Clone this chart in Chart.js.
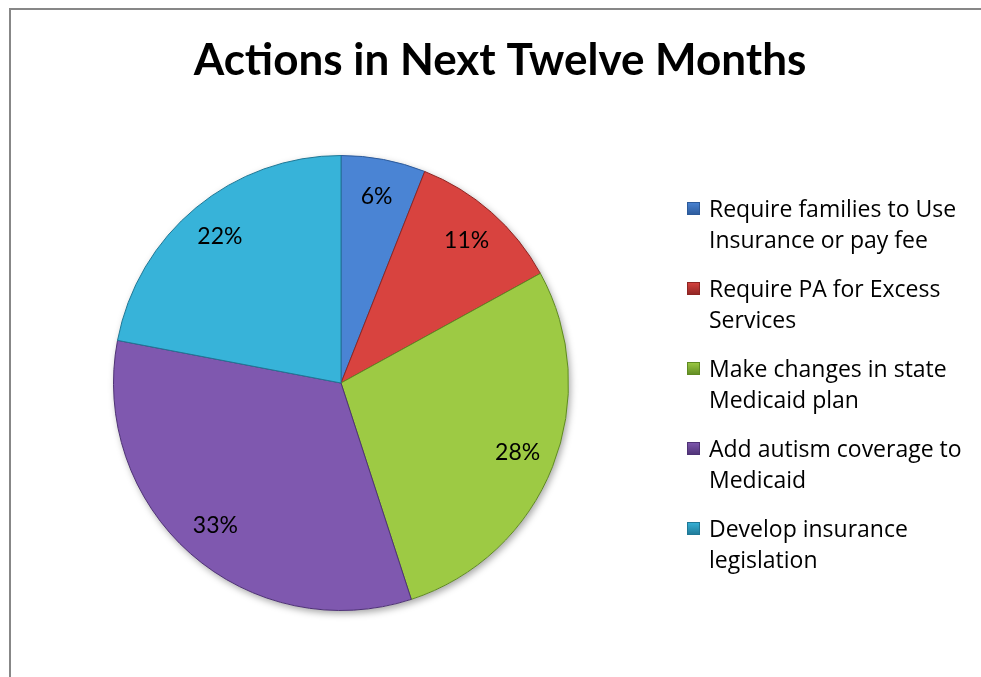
<!DOCTYPE html>
<html>
<head>
<meta charset="utf-8">
<script src="https://cdn.jsdelivr.net/npm/chart.js@4.4.1/dist/chart.umd.min.js"></script>
<style>
  html, body { margin: 0; padding: 0; background: #ffffff; overflow: hidden; }
  #wrap { position: absolute; left: 0; top: 0; width: 981px; height: 677px; }
</style>
</head>
<body>
<div id="wrap"><canvas id="c" width="981" height="677"></canvas></div>
<script>
// ---- data ----
const chartTitle = "Actions in Next Twelve Months";
const categories = [
  ["Require families to Use", "Insurance or pay fee"],
  ["Require PA for Excess", "Services"],
  ["Make changes in state", "Medicaid plan"],
  ["Add autism coverage to", "Medicaid"],
  ["Develop insurance", "legislation"]
];
const percentValues = [6, 11, 28, 33, 22];
const sliceColors = ["#4a84d4", "#d8433f", "#9dca44", "#7f58af", "#37b3d9"];
const sliceEdges = ["#2c5a9a", "#8e2523", "#5f8a22", "#4e3275", "#1f7896"];

const FONT = "Lato, 'Open Sans', sans-serif";
const LEGEND_FONT = "'Open Sans', Lato, sans-serif";

const framePlugin = {
  id: 'frame',
  beforeDraw(chart) {
    const ctx = chart.ctx;
    ctx.save();
    ctx.fillStyle = '#ffffff';
    ctx.fillRect(0, 0, chart.width, chart.height);
    ctx.strokeStyle = '#878787';
    ctx.lineWidth = 2;
    ctx.beginPath();
    ctx.moveTo(10, chart.height + 5);
    ctx.lineTo(10, 9);
    ctx.lineTo(chart.width + 5, 9);
    ctx.stroke();
    // title
    ctx.fillStyle = '#000000';
    ctx.font = "bold 44px " + FONT;
    ctx.textAlign = 'center';
    ctx.textBaseline = 'alphabetic';
    ctx.fillText(chartTitle, 500, 75);
    ctx.restore();
  },
  beforeDatasetsDraw(chart) {
    const arc = chart.getDatasetMeta(0).data[0];
    if (!arc) return;
    const ctx = chart.ctx;
    ctx.save();
    ctx.shadowColor = 'rgba(0,0,0,0.35)';
    ctx.shadowBlur = 7;
    ctx.shadowOffsetX = 2;
    ctx.shadowOffsetY = 3;
    ctx.fillStyle = '#ffffff';
    ctx.beginPath();
    ctx.arc(arc.x, arc.y, arc.outerRadius, 0, Math.PI * 2);
    ctx.fill();
    ctx.restore();
  },
  afterDatasetsDraw(chart) {
    const ctx = chart.ctx;
    const meta = chart.getDatasetMeta(0);
    ctx.save();
    ctx.fillStyle = '#000000';
    ctx.font = "23px " + FONT;
    ctx.textAlign = 'center';
    ctx.textBaseline = 'middle';
    meta.data.forEach((a, i) => {
      const mid = (a.startAngle + a.endAngle) / 2;
      const r = a.outerRadius * 0.835;
      ctx.fillText(chart.data.datasets[0].data[i] + '%', a.x + Math.cos(mid) * r, a.y + Math.sin(mid) * r);
    });
    // legend
    ctx.font = "23px " + LEGEND_FONT;
    ctx.textAlign = 'left';
    ctx.textBaseline = 'alphabetic';
    chart.data.labels.forEach((lines, i) => {
      const base = 217 + 80 * i;
      const grad = ctx.createLinearGradient(0, base - 15, 0, base - 2);
      grad.addColorStop(0, sliceColors[i]);
      grad.addColorStop(1, sliceEdges[i]);
      ctx.fillStyle = grad;
      ctx.fillRect(687, base - 15, 13, 13);
      ctx.strokeStyle = sliceEdges[i];
      ctx.lineWidth = 1;
      ctx.strokeRect(687.5, base - 14.5, 12, 12);
      ctx.fillStyle = '#000000';
      lines.forEach((ln, k) => ctx.fillText(ln, 709, base + 31 * k));
    });
    ctx.restore();
  }
};

new Chart(document.getElementById('c'), {
  type: 'pie',
  data: {
    labels: categories,
    datasets: [{
      data: percentValues,
      backgroundColor: sliceColors,
      borderColor: sliceEdges,
      borderWidth: 1
    }]
  },
  options: {
    responsive: false,
    animation: false,
    events: [],
    layout: { padding: { left: 113, right: 412, top: 155, bottom: 66 } },
    plugins: {
      legend: { display: false },
      title: { display: false },
      tooltip: { enabled: false }
    }
  },
  plugins: [framePlugin]
});
</script>
</body>
</html>
